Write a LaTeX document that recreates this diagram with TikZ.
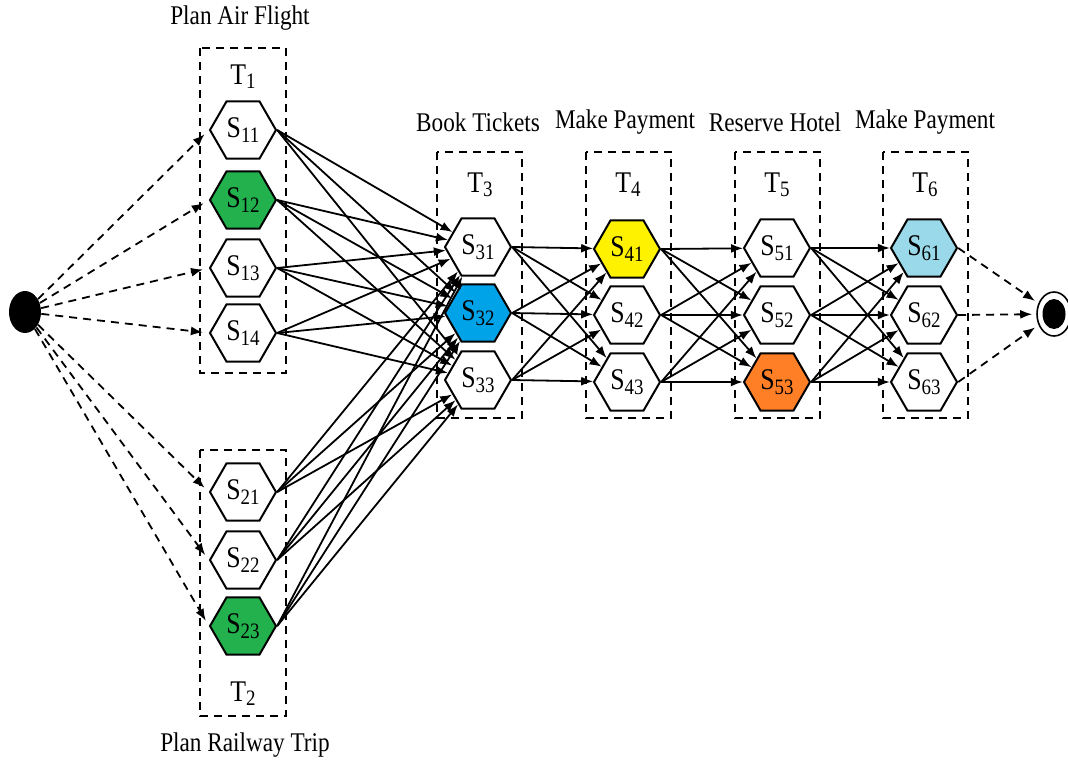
\documentclass[tikz,border=0pt]{standalone}
\usepackage{fontspec}
\setmainfont[FakeStretch=0.86]{Liberation Serif}
\usetikzlibrary{arrows.meta}
\usetikzlibrary{shapes.geometric}

% service and task names with lowered indices
\newcommand{\svc}[1]{S\raisebox{-2.4pt}{\fontsize{11}{11}\selectfont #1}}
\newcommand{\tsk}[1]{T\raisebox{-2pt}{\fontsize{11}{11}\selectfont #1}}

\definecolor{pgreen}{HTML}{22B14C}
\definecolor{pblue}{HTML}{00A2E8}
\definecolor{pyellow}{HTML}{FFF200}
\definecolor{porange}{HTML}{FF7F27}
\definecolor{pcyan}{HTML}{99D9EA}

\begin{document}
\begin{tikzpicture}[
    x=0.5pt, y=-0.5pt,
    hex/.style={regular polygon, regular polygon sides=6, draw, line width=1pt,
        minimum size=33pt, inner sep=0pt, fill=white,
        font=\fontsize{15}{17}\selectfont},
    taskbox/.style={draw, line width=0.9pt, dash pattern=on 4pt off 3pt},
    tasklabel/.style={font=\fontsize{15}{17}\selectfont},
    heading/.style={font=\fontsize{13.5}{15}\selectfont},
    flow/.style={line width=0.9pt, -{Latex[length=6pt,width=4.5pt]}},
    dflow/.style={line width=0.9pt, dash pattern=on 4pt off 3pt,
        -{Latex[length=6pt,width=4.5pt]}}]

    \useasboundingbox (0,0) rectangle (1068,761);

    % start and end states
    \node[ellipse, fill, minimum width=16pt, minimum height=21pt, inner sep=0pt] (ini) at (25,312) {};
    \node[ellipse, draw, line width=0.8pt, fill=white, minimum width=17pt, minimum height=22pt, inner sep=0pt] (fin) at (1054,314) {};
    \node[ellipse, fill, minimum width=11.5pt, minimum height=15pt, inner sep=0pt] (fincore) at (fin) {};

    % task T1
    \draw[taskbox] (200,48) rectangle (286,373);
    \node[heading] at (240,18) (h1) {Plan Air Flight};
    \node[tasklabel] at (243,77) (t1) {\tsk{1}};
    \node[hex] at (243,130) (s11) {\svc{11}};
    \node[hex, fill=pgreen] at (243,200) (s12) {\svc{12}};
    \node[hex] at (243,268) (s13) {\svc{13}};
    \node[hex] at (243,333) (s14) {\svc{14}};

    % task T2
    \draw[taskbox] (200,450) rectangle (286,716);
    \node[heading] at (245,745) (h2) {Plan Railway Trip};
    \node[tasklabel] at (243,694) (t2) {\tsk{2}};
    \node[hex] at (243,492) (s21) {\svc{21}};
    \node[hex] at (243,560) (s22) {\svc{22}};
    \node[hex, fill=pgreen] at (243,626) (s23) {\svc{23}};

    % task T3
    \draw[taskbox] (437,152) rectangle (522,418);
    \node[heading] at (478,122) (h3) {Book Tickets};
    \node[tasklabel] at (480,185) (t3) {\tsk{3}};
    \node[hex] at (478,247) (s31) {\svc{31}};
    \node[hex, fill=pblue] at (478,313) (s32) {\svc{32}};
    \node[hex] at (478,380) (s33) {\svc{33}};

    % task T4
    \draw[taskbox] (586,152) rectangle (671,418);
    \node[heading] at (625,122) (h4) {Make Payment};
    \node[tasklabel] at (628,185) (t4) {\tsk{4}};
    \node[hex, fill=pyellow] at (627,249) (s41) {\svc{41}};
    \node[hex] at (627,315) (s42) {\svc{42}};
    \node[hex] at (627,382) (s43) {\svc{43}};

    % task T5
    \draw[taskbox] (735,152) rectangle (820,418);
    \node[heading] at (775,122) (h5) {Reserve Hotel};
    \node[tasklabel] at (777,185) (t5) {\tsk{5}};
    \node[hex] at (777,248) (s51) {\svc{51}};
    \node[hex] at (777,315) (s52) {\svc{52}};
    \node[hex, fill=porange] at (777,382) (s53) {\svc{53}};

    % task T6
    \draw[taskbox] (883,152) rectangle (968,418);
    \node[heading] at (925,122) (h6) {Make Payment};
    \node[tasklabel] at (925,185) (t6) {\tsk{6}};
    \node[hex, fill=pcyan] at (924,248) (s61) {\svc{61}};
    \node[hex] at (924,315) (s62) {\svc{62}};
    \node[hex] at (924,382) (s63) {\svc{63}};

    % choice of the first service
    \foreach \b in {11,12,13,14,21,22,23}
        \draw[dflow, shorten >=3pt] (ini) -- (s\b.west);

    % every service of one task to every service of the next
    \foreach \a in {11,12,13,14,21,22,23}
        \foreach \b in {31,32,33}
            \draw[flow] (s\a.east) -- (s\b);
    \foreach \a in {31,32,33}
        \foreach \b in {41,42,43}
            \draw[flow] (s\a.east) -- (s\b);
    \foreach \a in {41,42,43}
        \foreach \b in {51,52,53}
            \draw[flow] (s\a.east) -- (s\b);
    \foreach \a in {51,52,53}
        \foreach \b in {61,62,63}
            \draw[flow] (s\a.east) -- (s\b);

    % last task to the end state
    \foreach \a in {61,62,63}
        \draw[dflow, shorten >=2pt] (s\a.east) -- (fin);

\end{tikzpicture}
\end{document}
